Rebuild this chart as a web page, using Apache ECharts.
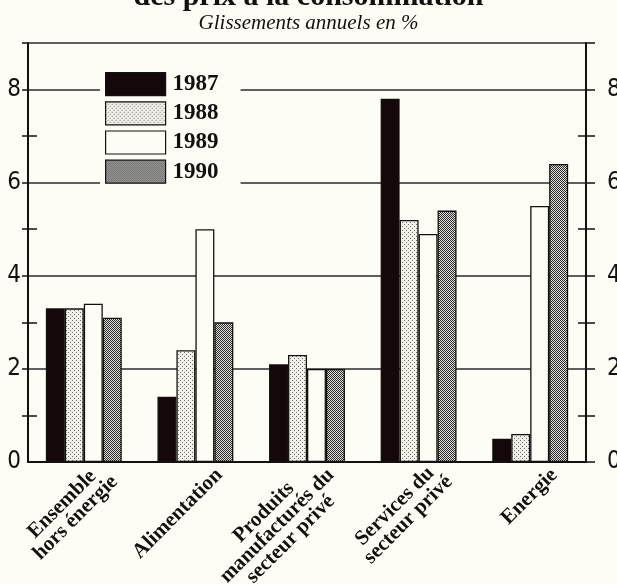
<!DOCTYPE html>
<html><head><meta charset="utf-8">
<script src="https://cdn.jsdelivr.net/npm/echarts@6/dist/echarts.min.js"></script>
<style>html,body{margin:0;padding:0;background:#fdfdf5;} #c{width:617px;height:584px;}</style>
</head><body><div id="c"></div>
<script>
// ---- data ----
const categories = ['Ensemble\nhors énergie', 'Alimentation', 'Produits\nmanufacturés du\nsecteur privé', 'Services du\nsecteur privé', 'Energie'];
const years = ['1987', '1988', '1989', '1990'];
const v1987 = [3.3, 1.4, 2.1, 7.8, 0.5];
const v1988 = [3.3, 2.4, 2.3, 5.2, 0.6];
const v1989 = [3.4, 5.0, 2.0, 4.9, 5.5];
const v1990 = [3.1, 3.0, 2.0, 5.4, 6.4];
const yLabelValues = [0, 2, 4, 6, 8];
const yGridValues = [0, 2, 4, 6, 8, 9];
const yAllTicks = [0, 1, 2, 3, 4, 5, 6, 7, 8, 9];
const yOuterLeftTicks = [1, 2, 3, 4, 5, 6, 7, 8, 9];
const yMinorTicks = [1, 3, 5, 7];
const titleText = 'des prix à la consommation';
const subtitleText = 'Glissements annuels en %';

// ---- styles ----
const BG = '#fdfdf5';
const INK = '#141010';
function pattern(w, h, bg, fg, pts) {
  const c = document.createElement('canvas');
  c.width = w; c.height = h;
  const g = c.getContext('2d');
  g.fillStyle = bg; g.fillRect(0, 0, w, h);
  g.fillStyle = fg;
  pts.forEach(p => g.fillRect(p[0], p[1], 1, 1));
  return { image: c, repeat: 'repeat' };
}
const fills = [
  '#150808',
  pattern(4, 4, '#f1f1ea', '#707070', [[0, 0], [2, 2]]),
  BG,
  pattern(2, 2, '#e2e2dc', '#2a2a2a', [[0, 0], [1, 1]])
];
const values = [v1987, v1988, v1989, v1990];

const chart = echarts.init(document.getElementById('c'), null, { renderer: 'canvas' });
const yBase = { type: 'value', min: 0, max: 9, interval: 1, gridIndex: 0 };
const tickLine = { color: INK, width: 1.5 };
const numFont = { fontFamily: '"Liberation Sans Narrow", "DejaVu Sans Condensed", "Liberation Sans", sans-serif', fontSize: 24, color: INK };

chart.setOption({
  backgroundColor: BG,
  animation: false,
  title: [
    { text: titleText, left: 'center', top: -18, padding: 0,
      textStyle: { fontFamily: '"Liberation Serif", serif', fontWeight: 'bold', fontSize: 30, color: INK } },
    { text: subtitleText, left: 'center', top: 13, padding: 0,
      textStyle: { fontFamily: '"Liberation Serif", serif', fontStyle: 'italic', fontWeight: 'normal', fontSize: 21, color: INK } }
  ],
  legend: {
    orient: 'vertical', left: 100, top: 66, padding: [6, 22, 5, 5],
    itemGap: 5, itemWidth: 60, itemHeight: 23, icon: 'rect',
    backgroundColor: BG,
    data: years,
    textStyle: { fontFamily: '"Liberation Serif", serif', fontWeight: 'bold', fontSize: 23, color: INK, padding: [0, 0, 0, 2] },
    itemStyle: { borderColor: INK, borderWidth: 1.2 }
  },
  grid: [
    { left: 28, right: 31, top: 43, bottom: 122, outerBoundsMode: 'none' },
    { left: 52, right: 7, top: 43, bottom: 122, outerBoundsMode: 'none' }
  ],
  xAxis: [
    { type: 'category', gridIndex: 0, data: categories,
      axisLine: { show: true, lineStyle: { color: INK, width: 2 } },
      axisTick: { show: false }, axisLabel: { show: false }, splitLine: { show: false } },
    { type: 'category', gridIndex: 1, data: categories,
      axisLine: { show: false }, axisTick: { show: false }, splitLine: { show: false },
      axisLabel: {
        interval: 0, rotate: 45, margin: 10, overflow: 'none', hideOverlap: false,
        formatter: v => v.split('\n').map(s => '{c|' + s + '}').join('\n'),
        rich: { c: { align: 'center', fontFamily: '"Liberation Serif", serif', fontWeight: 'bold', fontSize: 21, lineHeight: 19, color: INK } }
      } }
  ],
  yAxis: [
    { ...yBase, position: 'left',
      axisLine: { show: true, lineStyle: { color: INK, width: 2 } },
      axisTick: { show: false, customValues: yGridValues },
      axisLabel: { customValues: yLabelValues, margin: 7, ...numFont },
      splitLine: { show: true, lineStyle: { color: '#2a2a2a', width: 1.5 } } },
    { ...yBase, position: 'left',
      axisLine: { show: false },
      axisTick: { show: true, customValues: yOuterLeftTicks, length: 6, lineStyle: tickLine },
      axisLabel: { show: false }, splitLine: { show: false } },
    { ...yBase, position: 'left',
      axisLine: { show: false },
      axisTick: { show: true, inside: true, customValues: yMinorTicks, length: 9, lineStyle: tickLine },
      axisLabel: { show: false }, splitLine: { show: false } },
    { ...yBase, position: 'right',
      axisLine: { show: true, lineStyle: { color: INK, width: 2 } },
      axisTick: { show: true, customValues: yAllTicks, length: 9, lineStyle: tickLine },
      axisLabel: { customValues: yLabelValues, margin: 21, ...numFont },
      splitLine: { show: false } },
    { ...yBase, position: 'right',
      axisLine: { show: false },
      axisTick: { show: true, inside: true, customValues: yMinorTicks, length: 8, lineStyle: tickLine },
      axisLabel: { show: false }, splitLine: { show: false } },
    { type: 'value', gridIndex: 1, min: 0, max: 9, show: false }
  ],
  series: years.map((y, i) => ({
    name: y, type: 'bar', xAxisIndex: 0, yAxisIndex: 0,
    data: values[i],
    barGap: '0%', barCategoryGap: '32%',
    itemStyle: { color: fills[i], borderColor: INK, borderWidth: 1.3 }
  }))
});
</script>
</body></html>
